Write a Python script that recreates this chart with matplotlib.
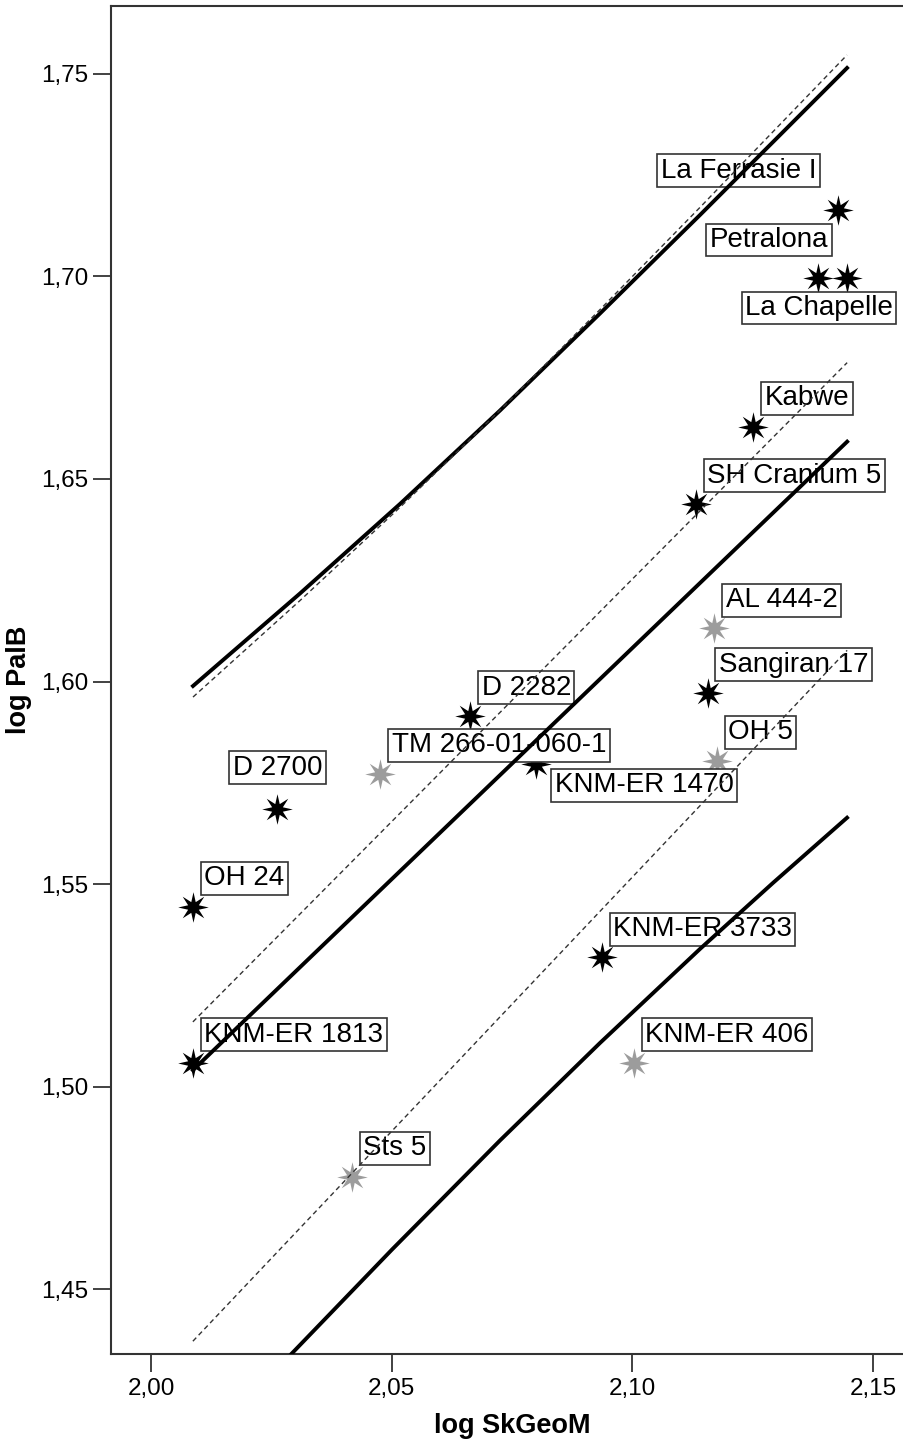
import numpy as np
import matplotlib
matplotlib.use('Agg')
import matplotlib.pyplot as plt
from matplotlib.path import Path

plt.rcParams['font.family'] = ['Liberation Sans', 'DejaVu Sans']

# specimens
names = ['La Ferrasie I', 'Petralona', 'La Chapelle', 'Kabwe', 'SH Cranium 5',
         'AL 444-2', 'Sangiran 17', 'OH 5', 'D 2282', 'TM 266-01-060-1',
         'KNM-ER 1470', 'D 2700', 'OH 24', 'KNM-ER 3733', 'KNM-ER 406',
         'KNM-ER 1813', 'Sts 5']
log_skgeom = [2.1426, 2.1386, 2.1445, 2.1251, 2.1132,
              2.1170, 2.1156, 2.1175, 2.0663, 2.0476,
              2.0800, 2.0262, 2.0087, 2.0936, 2.1003,
              2.0087, 2.0417]
log_palb = [1.7164, 1.6995, 1.6995, 1.6629, 1.6438,
            1.6131, 1.5971, 1.5805, 1.5915, 1.5773,
            1.5797, 1.5685, 1.5444, 1.5319, 1.5058,
            1.5058, 1.4778]
group = ['Homo', 'Homo', 'Homo', 'Homo', 'Homo',
         'other', 'Homo', 'other', 'Homo', 'other',
         'Homo', 'Homo', 'Homo', 'Homo', 'other',
         'Homo', 'other']

# fitted lines
fit_x = [2.0087, 2.1446]
fit_y = [1.5041, 1.6592]
fit_upper_dash_y = [1.5160, 1.6787]
fit_lower_dash_y = [1.4372, 1.6077]

band_up_x = [2.00872, 2.03095, 2.05172, 2.07250, 2.09327, 2.11404, 2.12921, 2.14458]
band_up_y = [1.59890, 1.62174, 1.64383, 1.66690, 1.69084, 1.71515, 1.73317, 1.75143]
band_up_dash_y = [1.59617, 1.61999, 1.64299, 1.66698, 1.69181, 1.71703, 1.73571, 1.75464]
band_low_x = [2.02908, 2.05006, 2.07250, 2.09327, 2.11404, 2.12921, 2.14458]
band_low_y = [1.43396, 1.45982, 1.48675, 1.51081, 1.53401, 1.55032, 1.56639]

xticks = [2.00, 2.05, 2.10, 2.15]
xtick_labels = ['2,00', '2,05', '2,10', '2,15']
yticks = [1.45, 1.50, 1.55, 1.60, 1.65, 1.70, 1.75]
ytick_labels = ['1,45', '1,50', '1,55', '1,60', '1,65', '1,70', '1,75']

# label box lower-left corner relative to the star, in pixels (y up)
default_off = (8, 12)
label_off = {
    'La Ferrasie I': (-180, 23),
    'Petralona': (-112, 22),
    'La Chapelle': (-105, -46),
    'KNM-ER 1470': (15, -38),
    'D 2700': (-48, 25),
}

fig = plt.figure(figsize=(9.04, 14.42), dpi=100)
ax = fig.add_axes([0.1228, 0.0610, 0.8872, 0.9348])

star = Path.unit_regular_star(8, 0.38)
colors = {'Homo': 'black', 'other': '#9c9c9c'}
for g in ['Homo', 'other']:
    xs = [x for x, gg in zip(log_skgeom, group) if gg == g]
    ys = [y for y, gg in zip(log_palb, group) if gg == g]
    ax.plot(xs, ys, linestyle='none', marker=star, markersize=22,
            color=colors[g], markeredgewidth=0, zorder=2)

px2pt = 0.72
pad = 3.4
for name, x, y in zip(names, log_skgeom, log_palb):
    dx, dy = label_off.get(name, default_off)
    ax.annotate(name, xy=(x, y), xytext=((dx + pad) * px2pt, (dy + pad) * px2pt),
                textcoords='offset points', ha='left', va='bottom', fontsize=20,
                color='black', zorder=3,
                bbox=dict(boxstyle='square,pad=0.125', facecolor='white',
                          edgecolor='#333333', linewidth=1.2))

ax.plot(fit_x, fit_y, color='black', linewidth=2.8, zorder=4)
ax.plot(band_up_x, band_up_y, color='black', linewidth=2.8, zorder=4)
ax.plot(band_low_x, band_low_y, color='black', linewidth=2.8, zorder=4)
dash_kw = dict(color='#333333', linewidth=1.0, dashes=(3.5, 2.5), zorder=4)
ax.plot(fit_x, fit_upper_dash_y, **dash_kw)
ax.plot(fit_x, fit_lower_dash_y, **dash_kw)
ax.plot(band_up_x, band_up_dash_y, **dash_kw)

ax.set_xlim(1.99169, 2.15829)
ax.set_ylim(1.43403, 1.76671)
ax.set_xticks(xticks)
ax.set_xticklabels(xtick_labels)
ax.set_yticks(yticks)
ax.set_yticklabels(ytick_labels)
ax.tick_params(direction='out', length=13, width=1.3, color='#333333',
               labelsize=17.5, labelcolor='black')
ax.tick_params(axis='x', pad=4.5)
ax.tick_params(axis='y', pad=3.4)
for sp in ax.spines.values():
    sp.set_linewidth(1.5)
    sp.set_color('#333333')

ax.set_xlabel('log SkGeoM', fontsize=19.5, fontweight='bold')
ax.set_ylabel('log PalB', fontsize=19.5, fontweight='bold')
ax.xaxis.set_label_coords(0.5, -0.044)
ax.yaxis.set_label_coords(-0.0985, 0.5)

fig.savefig('out.png', dpi=100)
